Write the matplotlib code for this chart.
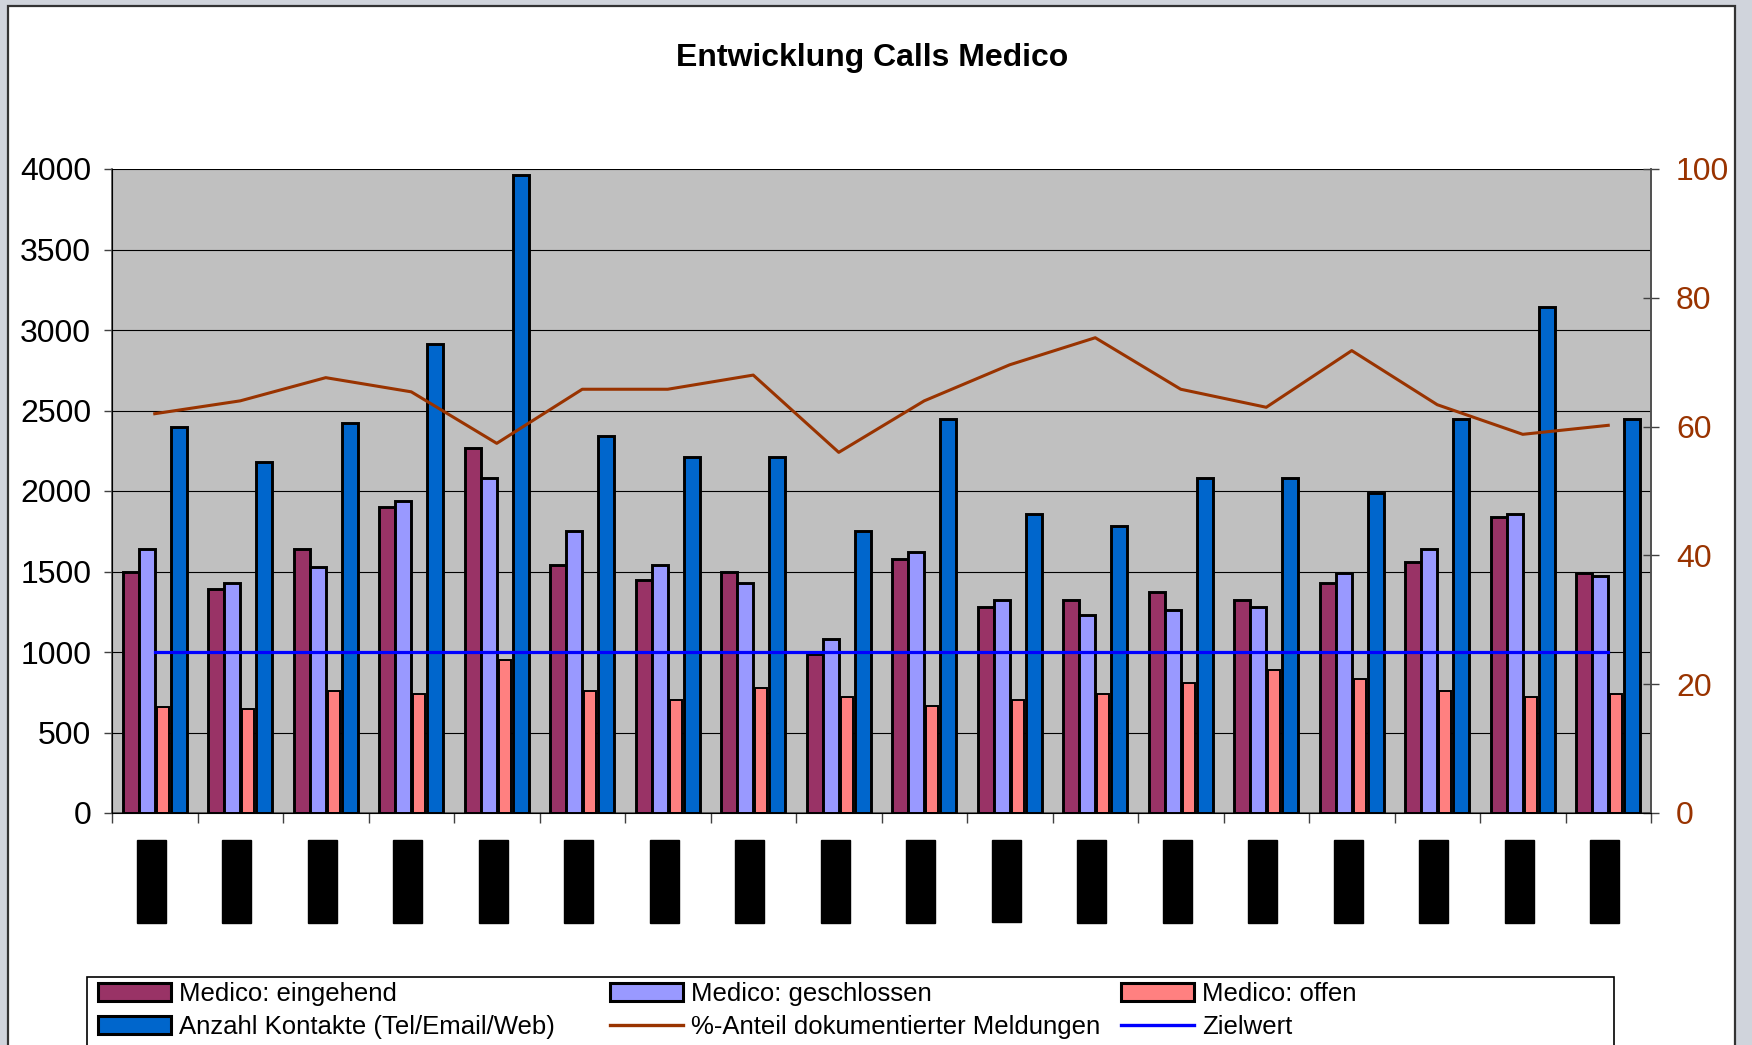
"""
Entwicklung Calls Medico: four grouped bar series per period on the left
axis, the documented-share line on a right axis (0-100) and a flat target
line at 1000. Category labels are blacked out in the source, so they are
drawn as black-on-black labels.
"""

import matplotlib
matplotlib.use("Agg")
import matplotlib.pyplot as plt
import matplotlib.transforms as mtransforms
import numpy as np
from matplotlib.lines import Line2D
from matplotlib.patches import Patch, Rectangle

plt.rcParams["font.family"] = ["Liberation Sans", "DejaVu Sans"]

# ---- data ----
PERIOD_LABELS = [f"Periode {i:02d}" for i in range(1, 19)]
EINGEHEND = [1500, 1390, 1640, 1900, 2270, 1540, 1450, 1500, 990,
             1580, 1280, 1320, 1370, 1320, 1430, 1560, 1840, 1490]
GESCHLOSSEN = [1640, 1430, 1530, 1940, 2080, 1750, 1540, 1430, 1080,
               1620, 1320, 1230, 1260, 1280, 1490, 1640, 1860, 1470]
OFFEN = [660, 645, 755, 740, 950, 755, 700, 775, 720,
         665, 700, 740, 810, 890, 830, 755, 720, 740]
KONTAKTE = [2400, 2180, 2420, 2910, 3960, 2340, 2210, 2210, 1750,
            2450, 1860, 1780, 2080, 2080, 1990, 2450, 3140, 2450]
ANTEIL = [62.0, 64.0, 67.6, 65.4, 57.4, 65.8, 65.8, 68.0, 56.0,
          64.0, 69.6, 73.8, 65.8, 63.0, 71.8, 63.4, 58.8, 60.2]
ZIELWERT = [1000] * 18

LEFT_TICKS = [0, 500, 1000, 1500, 2000, 2500, 3000, 3500, 4000]
RIGHT_TICKS = [0, 20, 40, 60, 80, 100]

# ---- style ----
C_EING = "#993366"
C_GESCH = "#9999FF"
C_OFFEN = "#FF8080"
C_KONT = "#0066CC"
C_ANTEIL = "#993300"
C_ZIEL = "#0000FF"
PLOT_BG = "#C0C0C0"
OUTER_BG = "#D0D4DC"

W, H = 1752, 1045


def fx(px):
    return px / W


def fy(py):
    # pixel row from the top -> figure fraction from the bottom
    return 1 - py / H


def main():
    fig = plt.figure(figsize=(W / 100, H / 100), dpi=100, facecolor=OUTER_BG)

    # white chart sheet with the dark frame, kept behind everything
    fig.patches.append(Rectangle((fx(8), -0.01), fx(1735 - 8), fy(6) + 0.01,
                                 transform=fig.transFigure, facecolor="white",
                                 edgecolor="#333333", linewidth=1.6,
                                 zorder=-10))

    ax = fig.add_axes([fx(112), fy(813), fx(1651 - 112), (813 - 169) / H])
    ax.set_facecolor(PLOT_BG)

    x = np.arange(len(PERIOD_LABELS))
    slot = 0.1875
    edge = dict(edgecolor="black", linewidth=2.1, zorder=3)
    ax.bar(x - 1.5 * slot, EINGEHEND, slot, color=C_EING, **edge)
    ax.bar(x - 0.5 * slot, GESCHLOSSEN, slot, color=C_GESCH, **edge)
    ax.bar(x + 0.5 * slot, OFFEN, slot * 0.74, color=C_OFFEN,
           edgecolor="black", linewidth=1.4, zorder=3)
    ax.bar(x + 1.5 * slot, KONTAKTE, slot, color=C_KONT, **edge)
    ax.plot(x, ZIELWERT, color=C_ZIEL, linewidth=2.3, zorder=4)

    ax.set_xlim(-0.5, len(x) - 0.5)
    ax.set_ylim(0, 4000)
    ax.set_yticks(LEFT_TICKS)
    ax.grid(True, axis="y", color="black", linewidth=0.8, zorder=1)
    ax.set_axisbelow(True)
    ax.tick_params(axis="y", labelsize=23, length=6, width=1, pad=9,
                   color="#404040", labelcolor="black")

    # period boundaries get the tick marks, centres carry the (hidden) labels
    ax.set_xticks(np.arange(len(x) + 1) - 0.5, minor=True)
    ax.set_xticks(x)
    ax.set_xticklabels(PERIOD_LABELS, rotation=90, fontsize=10,
                       color="black", va="top", ha="center",
                       bbox=dict(facecolor="black", edgecolor="black", pad=5.5))
    ax.tick_params(axis="x", which="major", length=0, pad=25)
    ax.tick_params(axis="x", which="minor", length=7, width=1, color="#404040")
    shift = mtransforms.ScaledTranslation(-0.035, 0, fig.dpi_scale_trans)
    for lbl in ax.get_xticklabels():
        lbl.set_transform(lbl.get_transform() + shift)

    ax.spines["top"].set_visible(False)
    for side in ("left", "bottom", "right"):
        ax.spines[side].set_color("#505050")
        ax.spines[side].set_linewidth(1.2)

    ax2 = ax.twinx()
    ax2.plot(x, ANTEIL, color=C_ANTEIL, linewidth=2.2, zorder=5)
    ax2.set_ylim(0, 100)
    ax2.set_yticks(RIGHT_TICKS)
    ax2.tick_params(axis="y", labelsize=23, length=12, width=1,
                    direction="inout", pad=12, color="#404040",
                    labelcolor=C_ANTEIL)
    ax2.spines["top"].set_visible(False)
    ax2.spines["right"].set_color("#505050")
    ax2.spines["right"].set_linewidth(1.2)

    fig.text(fx(872), fy(58), "Entwicklung Calls Medico", ha="center",
             va="center", fontsize=23, fontweight="bold", color="black")

    # legend: frame box plus three frameless columns
    fig.patches.append(Rectangle((fx(87), fy(1100)), fx(1614 - 87),
                                 (1100 - 977) / H, transform=fig.transFigure,
                                 facecolor="white", edgecolor="black",
                                 linewidth=1.2, zorder=1))

    def bar_handle(color):
        return Patch(facecolor=color, edgecolor="black", linewidth=2.2)

    columns = [
        (98, [(bar_handle(C_EING), "Medico: eingehend"),
              (bar_handle(C_KONT), "Anzahl Kontakte (Tel/Email/Web)")]),
        (610, [(bar_handle(C_GESCH), "Medico: geschlossen"),
               (Line2D([], [], color=C_ANTEIL, linewidth=2.4),
                "%-Anteil dokumentierter Meldungen")]),
        (1121, [(bar_handle(C_OFFEN), "Medico: offen"),
                (Line2D([], [], color=C_ZIEL, linewidth=2.4), "Zielwert")]),
    ]
    for x_px, entries in columns:
        leg = fig.legend([h for h, _ in entries], [t for _, t in entries],
                         loc="upper left", bbox_to_anchor=(fx(x_px), fy(982)),
                         frameon=False, fontsize=18.5, borderpad=0,
                         borderaxespad=0, handlelength=2.85,
                         handleheight=0.75, handletextpad=0.3,
                         labelspacing=0.35)
        leg.set_zorder(2)

    fig.savefig("out.png", dpi=100, facecolor=fig.get_facecolor())
    plt.close(fig)


if __name__ == "__main__":
    main()
